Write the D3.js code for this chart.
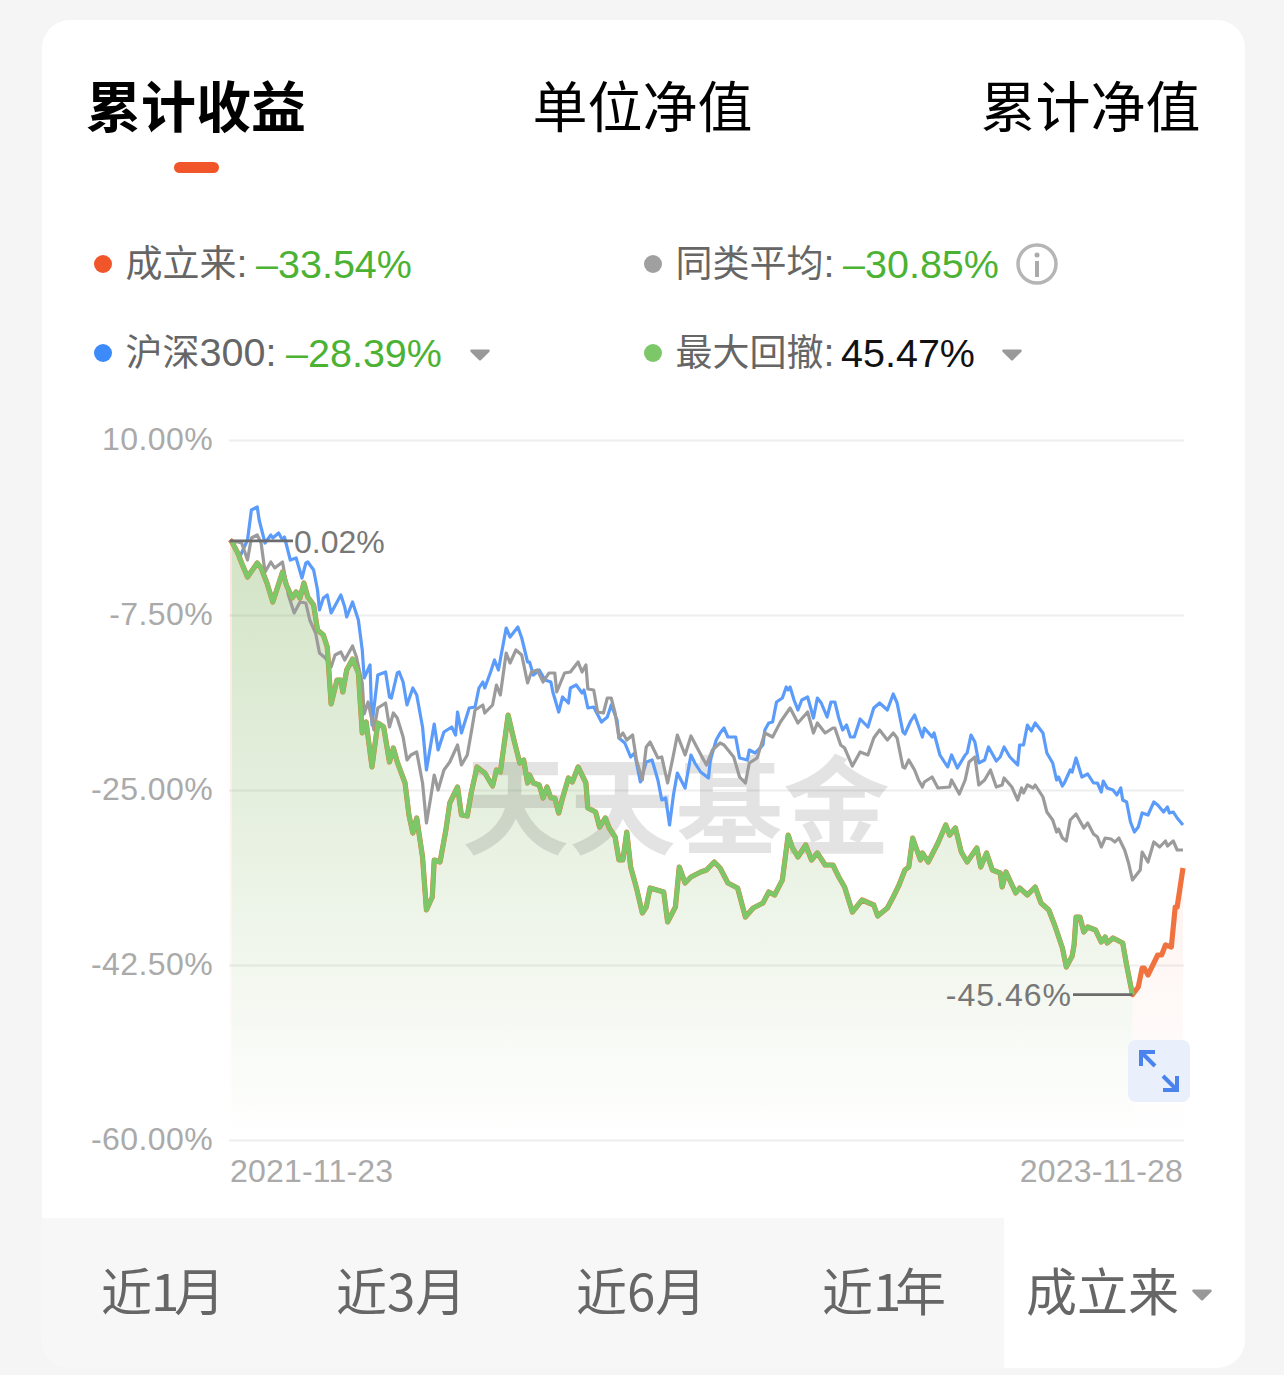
<!DOCTYPE html>
<html>
<head>
<meta charset="utf-8">
<title>累计收益</title>
<script src="https://cdn.jsdelivr.net/npm/d3@7"></script>
<style>
  html, body { margin: 0; padding: 0; background: #f5f5f5; }
  svg { display: block; }
  text { font-family: "Noto Sans CJK SC", "Noto Sans", sans-serif; }
  .num { font-family: "Liberation Sans", Arial, sans-serif; }
</style>
</head>
<body>
<div id="chart"></div>
<script>
// trading day index since 2021-11-23, 490 = 2023-11-28
const fundDays = [0,1,4,6,9,14,16,19,22,27,29,32,34,36,38,40,43,45,48,50,52,55,57,58,60,63,66,68,70,73,76,79,82,84,86,90,92,94,96,99,101,104,105,108,111,113,117,119,122,124,127,131,135,137,139,143,146,149,151,153,154,156,159,161,163,165,167,169,171,174,176,179,183,184,188,190,193,195,198,200,202,204,206,209,212,214,216,223,225,229,231,234,237,242,245,249,252,256,261,265,269,274,277,280,284,287,289,292,296,299,302,306,310,313,316,320,325,331,333,338,341,344,347,349,351,355,356,359,364,368,370,373,376,379,384,386,389,392,396,397,399,404,406,410,414,417,421,424,428,430,433,434,435,437,439,441,445,448,450,451,454,459,461,464,467,469,470,472,477,479,481,484,486,487,490];
const fundValues = [0.02,-0.2,-1.3,-2.3,-3.7,-2.3,-2.8,-4.3,-6.2,-3.2,-4.5,-5.8,-5.2,-5.8,-4.3,-5.7,-6.5,-9,-9.5,-10.7,-16.4,-14,-14,-15.2,-13,-11.9,-13.3,-19.3,-18.2,-22.7,-18.3,-18.7,-22.2,-20.8,-22.2,-24.3,-27.5,-29.3,-27.8,-31.7,-37,-35.7,-32,-32.2,-29,-26.3,-24.7,-27.5,-27.6,-25.3,-22.7,-23.3,-24.6,-23,-23.2,-17.5,-20,-22.3,-22,-24.3,-23.5,-24.3,-24.5,-25.8,-24.7,-25.8,-25.8,-27.3,-25.8,-23.8,-24.2,-22.7,-24.3,-26.8,-27.2,-28.7,-27.8,-28.8,-29.7,-32,-32,-29.2,-32.7,-34.8,-37.3,-36.7,-34.8,-35.2,-38.2,-36.7,-32.7,-34.3,-33.7,-33.2,-33,-32.2,-32.8,-34.3,-34.8,-37.7,-36.8,-36.3,-35.2,-35.5,-34,-29.5,-30.7,-31.7,-30.5,-32,-31.3,-32.5,-32.5,-33.7,-34.7,-37.2,-36,-36.5,-37.6,-36.8,-35.7,-34.5,-33,-32.7,-29.8,-32,-31.3,-32.2,-30.3,-28.5,-29.5,-28.8,-31.2,-32.2,-30.8,-32.7,-31.3,-33,-33.3,-34.7,-33.2,-35.3,-34.8,-35.5,-34.7,-36.3,-37,-38.5,-40.8,-42.7,-41.6,-40.5,-37.7,-37.7,-39.2,-38.7,-39,-40.2,-39.7,-40.3,-39.8,-40.3,-42.5,-45.46,-44.7,-42.8,-42.8,-43.5,-41.5,-41.5,-40.5,-40.7,-36.7,-36.7,-32.8];

const indexDays = [0,1,5,9,11,14,15,18,21,22,25,27,28,31,34,37,39,40,43,45,46,48,50,52,57,59,60,63,66,68,69,72,73,76,80,82,83,86,87,89,91,94,96,99,101,105,107,110,114,116,117,119,123,126,128,130,131,134,136,138,142,144,148,150,153,154,156,159,162,165,166,169,171,174,175,178,181,182,184,187,191,194,196,199,200,203,206,208,211,214,217,220,222,224,226,228,230,234,237,239,242,246,247,250,252,254,256,260,262,266,267,270,274,275,277,279,281,284,286,287,288,290,292,294,297,300,302,304,307,309,311,313,315,317,319,321,324,328,331,334,338,341,343,346,347,350,352,356,357,361,362,365,369,371,374,378,379,381,383,385,388,390,394,396,398,401,405,406,408,410,412,414,418,420,423,425,426,428,429,432,433,435,438,441,444,446,448,449,451,454,456,458,459,461,463,465,467,469,472,475,477,480,482,483,485,487,490];
const indexValues = [0,-0.3,-1.7,0,3,3.3,2,-0.3,0.5,0.2,0.7,0,0.3,-2,-1.8,-3.8,-2.3,-2.2,-3,-5,-7,-5.8,-5.5,-7.3,-5.5,-6.7,-7.7,-6.2,-8,-11,-13.8,-12.5,-18.5,-13.5,-13.2,-15.7,-15.8,-13.3,-13.2,-14.2,-16.5,-14.8,-15.5,-18.7,-23,-18.4,-21,-19.2,-18.7,-19.5,-17.2,-19.3,-16.8,-16.7,-14.8,-14.2,-14.8,-13.2,-12,-13,-8.8,-9.7,-8.7,-9.8,-12.2,-12.2,-13.5,-13,-14,-14.2,-15.2,-17.2,-15.7,-16.3,-14.8,-14.5,-15.3,-15,-16.8,-16.7,-18.2,-17.7,-16.5,-18,-19.8,-20.3,-21.7,-21.3,-24.2,-22.2,-22,-24,-26,-25.8,-28.5,-25.5,-23.3,-24.8,-21.5,-22.3,-23.2,-23.8,-22,-20,-19.3,-18.8,-19.7,-19.7,-21.8,-22,-21,-21.3,-20.5,-19,-18.3,-18.2,-16.2,-15.8,-14.7,-15,-14.7,-16,-17,-16,-15.7,-17.8,-15.8,-16.3,-17.7,-16.2,-16.2,-17.8,-19,-18.5,-19.7,-19.7,-17.9,-18.7,-16.8,-16.3,-17,-15.4,-16.3,-19.2,-19.4,-18.1,-17.5,-19.7,-18.8,-19.7,-19.3,-21.5,-22.7,-21.5,-22.8,-21.5,-21.3,-19.5,-20.2,-22.3,-22,-20.7,-22.1,-21.7,-20.7,-21.7,-22.5,-20.5,-20.5,-18.5,-19.1,-18.3,-19.3,-21.3,-22.3,-24,-23.7,-24.6,-24.3,-23,-23.2,-21.8,-23.7,-23.4,-24.3,-24.3,-25.2,-24.1,-24.8,-25,-25.5,-24.8,-26,-26.2,-28.2,-29.2,-28.7,-27.3,-27.5,-26.2,-26.5,-27.2,-26.7,-27.3,-27.2,-27.8,-28.5];

const peerDays = [0,1,4,6,9,11,14,16,18,21,23,25,27,30,33,36,39,41,44,46,49,52,54,57,59,63,65,68,69,71,74,76,80,82,84,86,89,91,93,96,99,101,103,105,107,110,113,117,119,122,124,126,130,131,135,137,139,142,144,147,150,153,155,158,161,164,167,168,172,175,179,181,183,184,187,189,192,194,196,198,200,202,204,207,209,212,214,216,220,222,225,228,230,234,237,240,243,245,248,252,254,259,262,265,267,271,275,279,283,288,292,297,300,302,306,310,311,314,316,320,324,328,331,334,338,341,343,346,347,349,352,354,356,357,361,364,370,371,375,378,380,383,385,388,391,394,397,398,402,405,407,408,410,413,414,418,420,423,425,426,428,430,432,435,439,441,444,446,448,450,453,455,457,460,462,464,468,469,472,475,478,481,482,485,487,490];
const peerValues = [0,-0.2,-0.2,-0.3,-2,0.2,0.5,-0.3,-3.2,-2.2,-2.8,-2.5,-2.2,-5.5,-7.3,-6.2,-6.3,-8,-9.3,-11.3,-11.8,-12.7,-11.5,-11.2,-12,-10.6,-11.7,-14.3,-17.4,-16.2,-19,-16.8,-16.3,-18.7,-17.3,-17.8,-19.7,-22,-21.5,-21.2,-24.3,-28.3,-26,-23.5,-25,-23,-22.2,-20.5,-22.5,-21.5,-19.3,-17,-16.5,-17.3,-16.5,-14.5,-15.5,-11.3,-12.3,-11,-11.5,-14.3,-13.2,-13,-14.2,-13.3,-13.3,-15.2,-13.3,-13.2,-12.2,-13.2,-12.5,-14.9,-15,-17.2,-17.3,-15.8,-15.8,-17.3,-19.8,-19.3,-20,-19.5,-22,-24,-20.7,-20.2,-21.8,-21.7,-24.3,-21.5,-19.5,-21.5,-19.6,-20.7,-21.8,-22.5,-21,-20.3,-20.5,-21.7,-23.7,-24.3,-22.3,-21.8,-19.3,-19.7,-18.2,-16.8,-18.3,-17.2,-19.3,-18.3,-19.3,-18.8,-18.8,-20.5,-20.8,-22.6,-21.2,-21.5,-19.8,-19,-20,-19.3,-19.8,-22.7,-22.8,-22,-23,-24,-24.7,-24.2,-23.7,-24.8,-24.7,-24,-25.4,-24,-22.2,-21.7,-24.5,-24,-23,-24.7,-24.5,-23.8,-24.7,-26,-24.8,-25.3,-24.5,-24.8,-24.5,-25.7,-27.2,-28,-29.2,-28.9,-29.8,-30.1,-28,-27.4,-28.8,-28.3,-29.4,-29.7,-30.7,-29.8,-29.9,-30.2,-29.8,-31,-32.3,-34,-33,-31.2,-32.2,-30.2,-30.7,-30.1,-30.6,-30.1,-31,-31];

const yTicks = [10, -7.5, -25, -42.5, -60];
const dateLabels = ["2021-11-23", "2023-11-28"];
const titleTabs = ["累计收益", "单位净值", "累计净值"];
const rangeTabs = ["近1月", "近3月", "近6月", "近1年", "成立来"];
const maxDrawdownDay = 464;

const width = 1284, height = 1375;
const svg = d3.select("#chart").append("svg").attr("width", width).attr("height", height);
const defs = svg.append("defs");

const x = d3.scaleLinear().domain([0, 490]).range([230, 1183]);
const y = d3.scaleLinear().domain([-60, 10]).range([1140, 440]);

// Card and bottom tab strip
svg.append("rect").attr("x", 42).attr("y", 20).attr("width", 1203).attr("height", 1348).attr("rx", 28).attr("fill", "#fff");
svg.append("path").attr("d", "M42,1218H1004V1368H70A28,28 0 0 1 42,1340Z").attr("fill", "#f7f7f7");

// Title tabs
const titleX = [86, 532.5, 980.5];
svg.selectAll(".title").data(titleTabs).enter().append("text")
  .attr("x", (d, i) => titleX[i]).attr("y", 127)
  .attr("font-size", 55)
  .attr("font-weight", (d, i) => i === 0 ? 700 : 400)
  .attr("fill", "#000")
  .text(d => d);
svg.append("rect").attr("x", 174).attr("y", 162).attr("width", 45).attr("height", 11).attr("rx", 5.5).attr("fill", "#f0562a");

// Legend
function legendItem(cx, cy, color, parts, labelX, value, valueX, valueColor) {
  svg.append("circle").attr("cx", cx).attr("cy", cy).attr("r", 9).attr("fill", color);
  const label = svg.append("text").attr("x", labelX).attr("y", cy + 13).attr("fill", "#666");
  label.append("tspan").attr("font-size", 37).text(parts[0]);
  label.append("tspan").attr("class", "num").attr("font-size", 39.5).text(parts[1]);
  svg.append("text").attr("class", "num").attr("x", valueX).attr("y", cy + 14).attr("font-size", 39.5).attr("fill", valueColor).text(value);
}
legendItem(103, 264, "#f0562a", ["成立来", ":"], 125.5, "–33.54%", 256, "#4cb234");
legendItem(653, 264, "#a0a0a0", ["同类平均", ":"], 675.5, "–30.85%", 843, "#4cb234");
legendItem(103, 353, "#3d8bfb", ["沪深", "300:"], 125.5, "–28.39%", 286, "#4cb234");
legendItem(653, 353, "#7cc768", ["最大回撤", ":"], 675.5, "45.47%", 841, "#111");

function caret(cx, cy, w) {
  const h = w * 0.5;
  svg.append("path")
    .attr("d", `M${cx - w / 2},${cy - h / 2}H${cx + w / 2}L${cx},${cy + h / 2}Z`)
    .attr("fill", "#999").attr("stroke", "#999").attr("stroke-width", 2.5).attr("stroke-linejoin", "round");
}
caret(480, 355, 17);
caret(1012, 355, 17);
caret(1202, 1295, 17);

svg.append("circle").attr("cx", 1037).attr("cy", 264).attr("r", 19).attr("fill", "none").attr("stroke", "#b5b5b5").attr("stroke-width", 3.5);
svg.append("circle").attr("cx", 1037).attr("cy", 255).attr("r", 2.5).attr("fill", "#aaa");
svg.append("rect").attr("x", 1035).attr("y", 261).attr("width", 4).attr("height", 16).attr("fill", "#aaa");

// Axes
const yAxis = d3.axisLeft(y).tickValues(yTicks).tickSize(-955).tickPadding(16)
  .tickFormat(d => d.toFixed(2) + "%");
const yG = svg.append("g").attr("transform", "translate(229,0)").call(yAxis);
yG.select(".domain").remove();
yG.selectAll("line").attr("stroke", "#eee").attr("stroke-width", 2);
yG.selectAll("text").attr("class", "num").attr("font-size", 32).attr("fill", "#aaa").attr("dy", "0.29em").style("letter-spacing", "0.4px");

svg.selectAll(".date").data(dateLabels).enter().append("text")
  .attr("class", "num")
  .attr("x", (d, i) => i === 0 ? x(0) : x(490))
  .attr("y", 1182)
  .attr("text-anchor", (d, i) => i === 0 ? "start" : "end")
  .attr("font-size", 32).attr("fill", "#aaa").style("letter-spacing", "0.2px")
  .text(d => d);

// Area fills
function fade(id, color, top) {
  const g = defs.append("linearGradient").attr("id", id).attr("gradientUnits", "userSpaceOnUse")
    .attr("x1", 0).attr("x2", 0).attr("y1", y(0)).attr("y2", y(-60));
  g.append("stop").attr("offset", 0).attr("stop-color", color).attr("stop-opacity", top);
  g.append("stop").attr("offset", 1).attr("stop-color", color).attr("stop-opacity", 0);
}
fade("greenFade", "#79ad55", 0.34);
fade("orangeFade", "#f0562a", 0.16);

const fund = fundDays.map((d, i) => ({ day: d, value: fundValues[i] }));
const drawdown = fund.filter(d => d.day >= 1 && d.day <= maxDrawdownDay);
const recovery = fund.filter(d => d.day >= maxDrawdownDay);
const startPart = fund.filter(d => d.day <= 1);

const area = d3.area().x(d => x(d.day)).y0(y(-60)).y1(d => y(d.value));
const line = d3.line().x(d => x(d.day)).y(d => y(d.value));

svg.append("path").datum(startPart).attr("d", area).attr("fill", "url(#orangeFade)");
svg.append("path").datum(recovery).attr("d", area).attr("fill", "url(#orangeFade)");
svg.append("path").datum(drawdown).attr("d", area).attr("fill", "url(#greenFade)");

// Watermark
svg.append("text").attr("x", 676).attr("y", 846).attr("text-anchor", "middle")
  .attr("font-size", 107).attr("font-weight", 700).attr("fill", "#000").attr("fill-opacity", 0.11)
  .text("天天基金");

// Series
function seriesLine(days, values, color, w) {
  svg.append("path").datum(days.map((d, i) => ({ day: d, value: values[i] })))
    .attr("d", line).attr("fill", "none").attr("stroke", color).attr("stroke-width", w).attr("stroke-linejoin", "round");
}
seriesLine(indexDays, indexValues, "#5b9bfa", 3.2);
seriesLine(peerDays, peerValues, "#9b9b9b", 3.2);
svg.append("path").datum(fund).attr("d", line).attr("fill", "none").attr("stroke", "#f0723f").attr("stroke-width", 5.2).attr("stroke-linejoin", "round");
svg.append("path").datum(drawdown).attr("d", line).attr("fill", "none").attr("stroke", "#7cc768").attr("stroke-width", 4.6).attr("stroke-linejoin", "round");

// Max / min labels
svg.append("line").attr("x1", x(0)).attr("x2", 293).attr("y1", y(0.02) + 1).attr("y2", y(0.02) + 1).attr("stroke", "#6c6c6c").attr("stroke-width", 2.8);
svg.append("text").attr("class", "num").attr("x", 294).attr("y", 553).attr("font-size", 32).attr("fill", "#777").text("0.02%");
svg.append("line").attr("x1", 1073).attr("x2", x(maxDrawdownDay)).attr("y1", y(-45.46)).attr("y2", y(-45.46)).attr("stroke", "#6c6c6c").attr("stroke-width", 2.8);
svg.append("text").attr("class", "num").attr("x", 1072).attr("y", 1006).attr("text-anchor", "end").attr("font-size", 32).attr("fill", "#777").style("letter-spacing", "1px").text("-45.46%");

// Expand button
svg.append("rect").attr("x", 1128).attr("y", 1040).attr("width", 62).attr("height", 62).attr("rx", 8).attr("fill", "#e9effb");
svg.append("path").attr("d", "M1141,1066V1052H1155M1141,1052L1155,1066M1177,1076V1090H1163M1177,1090L1163,1076")
  .attr("fill", "none").attr("stroke", "#4a82ee").attr("stroke-width", 4);

// Range tabs, the "1" tabs get per-glyph x so the digit sits tight like the original
const rangeX = ["101 151 174", 336, 576, "822 873 895", 1026];
svg.selectAll(".range").data(rangeTabs).enter().append("text")
  .attr("x", (d, i) => rangeX[i]).attr("y", 1311)
  .attr("font-size", 51).attr("fill", "#666")
  .text(d => d);
</script>
</body>
</html>
